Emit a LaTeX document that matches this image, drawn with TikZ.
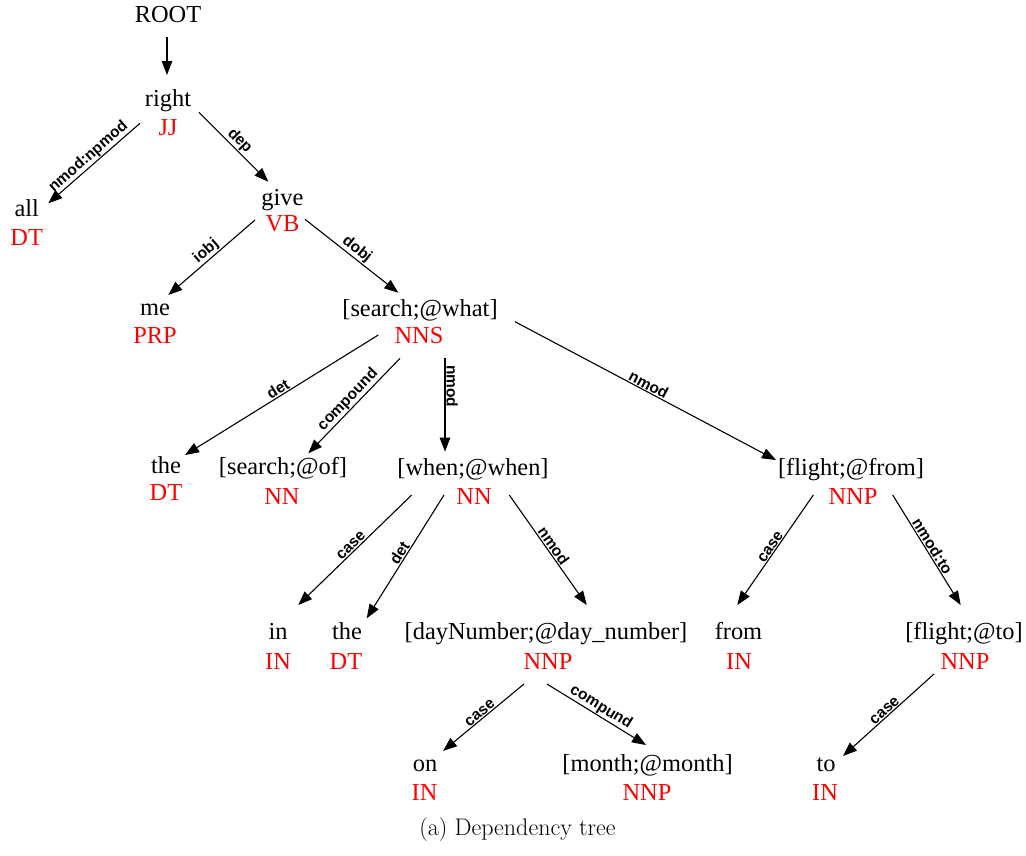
\documentclass[tikz,border=0pt]{standalone}
\usepackage{fontspec}
\newfontfamily\tnr{Liberation Serif}
\newfontfamily\labfont{Liberation Sans}
\usetikzlibrary{arrows.meta}
\definecolor{posred}{RGB}{255,0,0}
\begin{document}
\begin{tikzpicture}[x=1pt,y=-1pt,
  wd/.style={anchor=base,inner sep=0pt,font=\tnr\fontsize{24.4}{28}\selectfont},
  pt/.style={wd,text=posred},
  edge/.style={line width=1.1pt,-{Triangle[length=14pt,width=10.5pt]}},
  lab/.style={sloped,above,inner sep=0.8pt,font=\labfont\bfseries\fontsize{15.5}{17}\selectfont}]
\useasboundingbox (0,0) rectangle (1026,855);
% words and tags
\node[wd] (root) at (168,22.7) {ROOT};
\node[wd] (right) at (168,106) {right};
\node[pt] (rightT) at (168,135) {JJ};
\node[wd] (all) at (26.7,216.7) {all};
\node[pt] (allT) at (26.7,245) {DT};
\node[wd] (give) at (282.5,205) {give};
\node[pt] (giveT) at (282.5,231.7) {VB};
\node[wd] (me) at (155,315) {me};
\node[pt] (meT) at (155,343.3) {PRP};
\node[wd] (what) at (420,316) {[search;@what]};
\node[pt] (whatT) at (419,343.3) {NNS};
\node[wd] (theA) at (166,473) {the};
\node[pt] (theAT) at (166,500) {DT};
\node[wd] (of) at (283,474) {[search;@of]};
\node[pt] (ofT) at (282,504) {NN};
\node[wd] (when) at (473,475) {[when;@when]};
\node[pt] (whenT) at (474,504) {NN};
\node[wd] (ffrom) at (851,475) {[flight;@from]};
\node[pt] (ffromT) at (853,504) {NNP};
\node[wd] (in) at (278,639) {in};
\node[pt] (inT) at (278,669) {IN};
\node[wd] (theB) at (347,639) {the};
\node[pt] (theBT) at (346,669) {DT};
\node[wd] (day) at (546,639) {[dayNumber;@day\_number]};
\node[pt] (dayT) at (548,669) {NNP};
\node[wd] (from) at (738.5,639) {from};
\node[pt] (fromT) at (739,669) {IN};
\node[wd] (fto) at (964,639) {[flight;@to]};
\node[pt] (ftoT) at (965,669) {NNP};
\node[wd] (on) at (425,771.7) {on};
\node[pt] (onT) at (424.5,800) {IN};
\node[wd] (month) at (647.5,771.7) {[month;@month]};
\node[pt] (monthT) at (647,800) {NNP};
\node[wd] (to) at (826,771.7) {to};
\node[pt] (toT) at (825,800) {IN};
\node[anchor=base,inner sep=0pt,font=\fontsize{24}{28}\selectfont] (cap) at (517.5,835) {(a) Dependency tree};
% edges
\draw[edge] ([shift={(-1,14.3)}]root.base) -- ([shift={(-1,-31)}]right.base);
\draw[edge] ([shift={(-28,-11.7)}]rightT.base) -- node[lab]{nmod:npmod} ([shift={(21.6,-13.4)}]all.base);
\draw[edge] ([shift={(31,-22.7)}]rightT.base) -- node[lab]{dep} ([shift={(-14.2,-23.3)}]give.base);
\draw[edge] ([shift={(-27.5,-11.7)}]giveT.base) -- node[lab]{iobj} ([shift={(13.3,-20)}]me.base);
\draw[edge] ([shift={(22.5,-12.4)}]giveT.base) -- node[lab]{dobj} ([shift={(-21.7,-23.3)}]what.base);
\draw[edge] ([shift={(-40.7,-8.3)}]whatT.base) -- node[lab]{det} ([shift={(19,-18)}]theA.base);
\draw[edge] ([shift={(-19,15)}]whatT.base) -- node[lab]{compound} ([shift={(25.3,-20.7)}]of.base);
\draw[edge] ([shift={(26,15)}]whatT.base) -- node[lab,pos=0.3]{nmod} ([shift={(-28,-23.3)}]when.base);
\draw[edge] ([shift={(96,-21.6)}]whatT.base) -- node[lab]{nmod} ([shift={(-75,-15)}]ffrom.base);
\draw[edge] ([shift={(-62.3,-9)}]whenT.base) -- node[lab]{case} ([shift={(20.3,-34)}]in.base);
\draw[edge] ([shift={(-30,-9)}]whenT.base) -- node[lab]{det} ([shift={(19.7,-20.7)}]theB.base);
\draw[edge] ([shift={(35.3,-9)}]whenT.base) -- node[lab]{nmod} ([shift={(40.7,-34)}]day.base);
\draw[edge] ([shift={(-39.7,-9)}]ffromT.base) -- node[lab]{case} ([shift={(-1.2,-34)}]from.base);
\draw[edge] ([shift={(39.7,-9)}]ffromT.base) -- node[lab]{nmod:to} ([shift={(-3.3,-34)}]fto.base);
\draw[edge] ([shift={(-24,15)}]dayT.base) -- node[lab]{case} ([shift={(18,-20.7)}]on.base);
\draw[edge] ([shift={(-1,15)}]dayT.base) -- node[lab]{compund} ([shift={(-1.5,-26.7)}]month.base);
\draw[edge] ([shift={(-31,5)}]ftoT.base) -- node[lab]{case} ([shift={(17,-15.7)}]to.base);
\end{tikzpicture}
\end{document}
